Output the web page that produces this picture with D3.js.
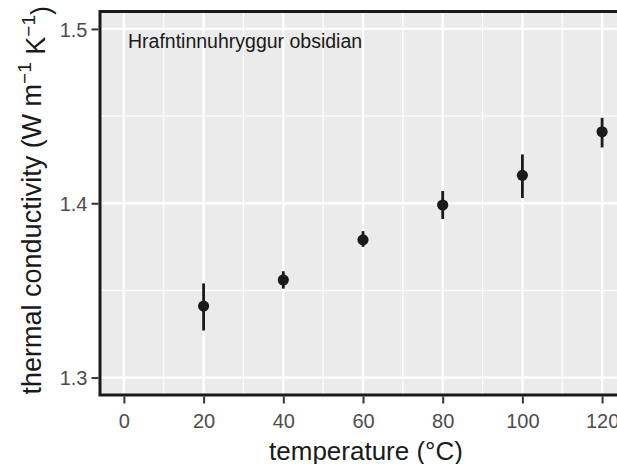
<!DOCTYPE html>
<html>
<head>
<meta charset="utf-8">
<script src="https://d3js.org/d3.v7.min.js"></script>
<style>
  body { margin: 0; background: #fff; }
  svg text { font-family: "Liberation Sans", Arial, Helvetica, sans-serif; }
</style>
</head>
<body>
<div id="chart"></div>
<script>
/***** data *****/
var temperature = [20, 40, 60, 80, 100, 120];
var conductivity = [1.341, 1.356, 1.379, 1.399, 1.416, 1.441];
var lower = [1.327, 1.351, 1.375, 1.391, 1.403, 1.432];
var upper = [1.354, 1.361, 1.384, 1.407, 1.428, 1.449];
var xTicks = [0, 20, 40, 60, 80, 100, 120];
var xMinor = [10, 30, 50, 70, 90, 110];
var yTicks = [1.3, 1.4, 1.5];
var yMinor = [1.35, 1.45];
var label = "Hrafntinnuhryggur obsidian";

var points = temperature.map(function(t, i) {
  return {t: t, k: conductivity[i], lo: lower[i], hi: upper[i]};
});

//chart parameters
var width = 617, height = 464;
var panel = {left: 100, top: 11.5, right: 626, bottom: 395};

var svg = d3.select("#chart").append("svg")
  .attr("width", width)
  .attr("height", height);

//scales (ggplot style expansion)
var x = d3.scaleLinear().domain([-6, 126]).range([panel.left, panel.right]);
var y = d3.scaleLinear().domain([1.29, 1.51]).range([panel.bottom, panel.top]);

//panel background
svg.append("rect")
  .attr("x", panel.left).attr("y", panel.top)
  .attr("width", panel.right - panel.left)
  .attr("height", panel.bottom - panel.top)
  .attr("fill", "#EBEBEB");

//grid
var grid = svg.append("g");
grid.selectAll(".xminor").data(xMinor).enter().append("line")
  .attr("x1", x).attr("x2", x)
  .attr("y1", panel.top).attr("y2", panel.bottom)
  .attr("stroke", "#fff").attr("stroke-width", 1.2);
grid.selectAll(".yminor").data(yMinor).enter().append("line")
  .attr("y1", y).attr("y2", y)
  .attr("x1", panel.left).attr("x2", panel.right)
  .attr("stroke", "#fff").attr("stroke-width", 1.2);
grid.selectAll(".xmajor").data(xTicks).enter().append("line")
  .attr("x1", x).attr("x2", x)
  .attr("y1", panel.top).attr("y2", panel.bottom)
  .attr("stroke", "#fff").attr("stroke-width", 2.3);
grid.selectAll(".ymajor").data(yTicks).enter().append("line")
  .attr("y1", y).attr("y2", y)
  .attr("x1", panel.left).attr("x2", panel.right)
  .attr("stroke", "#fff").attr("stroke-width", 2.3);

//error bars
svg.selectAll(".err").data(points).enter().append("line")
  .attr("x1", function(d) { return x(d.t); })
  .attr("x2", function(d) { return x(d.t); })
  .attr("y1", function(d) { return y(d.lo); })
  .attr("y2", function(d) { return y(d.hi); })
  .attr("stroke", "#1a1a1a").attr("stroke-width", 2.8);

//points
svg.selectAll(".pt").data(points).enter().append("circle")
  .attr("cx", function(d) { return x(d.t); })
  .attr("cy", function(d) { return y(d.k); })
  .attr("r", 5.6)
  .attr("fill", "#1a1a1a");

//panel border
svg.append("rect")
  .attr("x", panel.left).attr("y", panel.top)
  .attr("width", panel.right - panel.left)
  .attr("height", panel.bottom - panel.top)
  .attr("fill", "none")
  .attr("stroke", "#1a1a1a").attr("stroke-width", 3);

//axes
var xAxis = d3.axisBottom(x).tickValues(xTicks).tickSizeInner(7).tickSizeOuter(0);
var yAxis = d3.axisLeft(y).tickValues(yTicks).tickFormat(d3.format(".1f")).tickSizeInner(7).tickSizeOuter(0);

var gx = svg.append("g")
  .attr("transform", "translate(0," + (panel.bottom + 1.5) + ")")
  .call(xAxis);
gx.select(".domain").remove();
gx.selectAll(".tick line").attr("stroke", "#333").attr("stroke-width", 2);
gx.selectAll(".tick text")
  .attr("y", 31.5).attr("dy", null)
  .attr("fill", "#4D4D4D")
  .style("font-size", "20px");

var gy = svg.append("g")
  .attr("transform", "translate(" + (panel.left - 1.5) + ",0)")
  .call(yAxis);
gy.select(".domain").remove();
gy.selectAll(".tick line").attr("stroke", "#333").attr("stroke-width", 2);
gy.selectAll(".tick text")
  .attr("x", -11).attr("dy", "0.36em")
  .attr("fill", "#4D4D4D")
  .style("font-size", "20px");

//annotation
svg.append("text")
  .attr("x", 128).attr("y", 47.5)
  .attr("fill", "#1a1a1a")
  .style("font-size", "19.5px")
  .text(label);

//axis titles
svg.append("text")
  .attr("x", 366).attr("y", 460)
  .attr("text-anchor", "middle")
  .attr("fill", "#1a1a1a")
  .style("font-size", "26px")
  .text("temperature (°C)");

var yTitle = svg.append("text")
  .attr("transform", "translate(41," + ((panel.top + panel.bottom) / 2 - 3) + ") rotate(-90)")
  .attr("text-anchor", "middle")
  .attr("fill", "#1a1a1a")
  .style("font-size", "27px");
yTitle.append("tspan").text("thermal conductivity (W m");
yTitle.append("tspan").attr("dy", "-0.55em").style("font-size", "19px").text("−1");
yTitle.append("tspan").attr("dy", "0.55em").text(" K");
yTitle.append("tspan").attr("dy", "-0.55em").style("font-size", "19px").text("−1");
yTitle.append("tspan").attr("dy", "0.55em").text(")");
</script>
</body>
</html>
